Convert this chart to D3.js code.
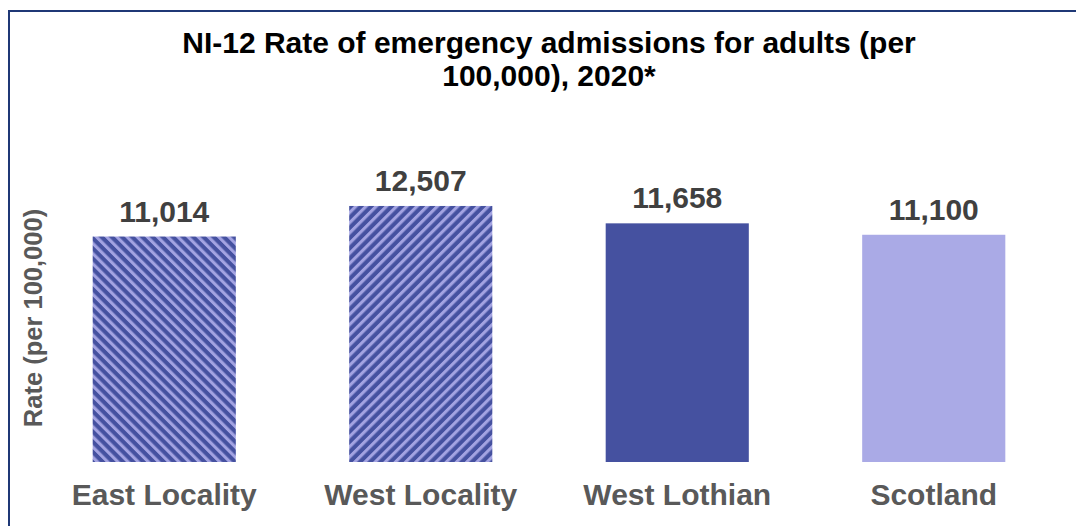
<!DOCTYPE html>
<html><head><meta charset="utf-8">
<script src="https://cdn.jsdelivr.net/npm/d3@7"></script>
<style>body{margin:0;background:#fff}svg{display:block}text{font-family:'Liberation Sans',Arial,sans-serif;font-weight:bold}</style>
</head><body>
<script>
const categories = ["East Locality","West Locality","West Lothian","Scotland"];
const values = [11014, 12507, 11658, 11100];
const titleLines = ["NI-12 Rate of emergency admissions for adults (per","100,000), 2020*"];
const yTitle = "Rate (per 100,000)";

const W=1076,H=526;
const svg=d3.select("body").append("svg").attr("width",W).attr("height",H);
const defs=svg.append("defs");
const dark="#4551a0", light="#aaaae6", stripeLight="#a3a3e2";
function stripes(id,angle){
  const s=7.2;
  const p=defs.append("pattern").attr("id",id).attr("patternUnits","userSpaceOnUse")
    .attr("width",s).attr("height",s).attr("patternTransform",`rotate(${angle})`);
  p.append("rect").attr("width",s).attr("height",s).attr("fill",dark);
  p.append("rect").attr("x",0).attr("width",3.1).attr("height",s).attr("fill",stripeLight);
}
stripes("stripeA",-45);
stripes("stripeB",45);
const fills=["url(#stripeA)","url(#stripeB)",dark,light];

svg.append("rect").attr("x",9).attr("y",11).attr("width",W+20).attr("height",H+20)
  .attr("fill","none").attr("stroke","#1f3876").attr("stroke-width",2);

const x=d3.scaleBand().domain(categories).range([36,1062]).paddingInner(0.442).paddingOuter(0.221);
const y=d3.scaleLinear().domain([0,14000]).range([462,175.4]);

svg.selectAll(".bar").data(values).join("rect")
  .attr("x",(d,i)=>x(categories[i])).attr("width",x.bandwidth())
  .attr("y",d=>y(d)).attr("height",d=>y(0)-y(d)).attr("fill",(d,i)=>fills[i]);

svg.selectAll(".val").data(values).join("text")
  .attr("x",(d,i)=>x(categories[i])+x.bandwidth()/2).attr("y",d=>y(d)-15)
  .attr("text-anchor","middle")
  .attr("font-size",30).attr("fill","#404040")
  .text(d=>d3.format(",")(d));

const xa=svg.append("g").attr("transform","translate(0,462)").call(d3.axisBottom(x).tickSize(0).tickPadding(0));
xa.select(".domain").remove();
xa.selectAll("text").attr("font-family",null).attr("font-size",30).attr("fill","#595959").attr("y",43).attr("dy",null);

svg.append("text").attr("transform","translate(42,318) rotate(-90)").attr("text-anchor","middle")
  .attr("font-size",25.5).attr("fill","#595959").text(yTitle);

svg.selectAll(".title").data(titleLines).join("text")
  .attr("x",549).attr("y",(d,i)=>53+i*33).attr("text-anchor","middle")
  .attr("font-size",30).attr("fill","#000").text(d=>d);
</script>
</body></html>
